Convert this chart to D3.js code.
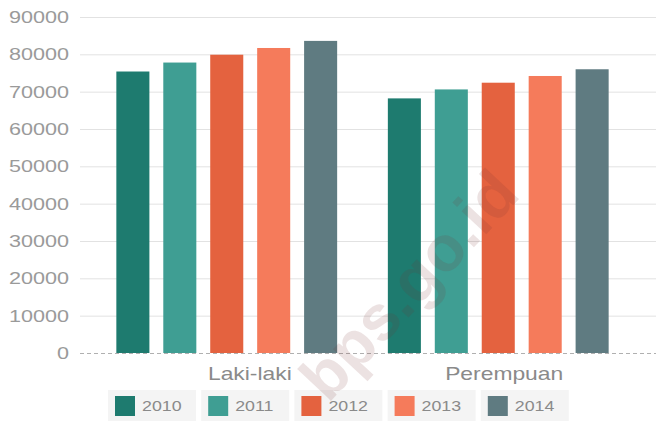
<!DOCTYPE html>
<html>
<head>
<meta charset="utf-8">
<script src="https://cdn.jsdelivr.net/npm/d3@7"></script>
<style>
  html, body { margin: 0; padding: 0; background: #fff; }
  svg { display: block; font-family: "Liberation Sans", Arial, sans-serif; }
</style>
</head>
<body>
<svg id="chart" width="658" height="422"></svg>
<script>
// Population by sex, 2010-2014
const categories = ["Laki-laki", "Perempuan"];
const years = ["2010", "2011", "2012", "2013", "2014"];
const lakiLaki = [75400, 77800, 79900, 81700, 83600];
const perempuan = [68200, 70600, 72400, 74200, 76000];
const yTicks = [0, 10000, 20000, 30000, 40000, 50000, 60000, 70000, 80000, 90000];
const colors = ["#1e7b6f", "#3f9e93", "#e4623f", "#f57b5b", "#5f7b81"];

const seriesByCategory = { "Laki-laki": lakiLaki, "Perempuan": perempuan };

const svg = d3.select("#chart");
const gridLeft = 80, gridRight = 656;
const textStretch = 1.27;

const y = d3.scaleLinear().domain([0, 90000]).range([353, 17]);
const x0 = d3.scaleBand().domain(categories).range([91, 634]);
const x1 = d3.scaleBand().domain(years).range([0, x0.bandwidth()])
  .paddingInner(0.296).paddingOuter(0.54);
const color = d3.scaleOrdinal().domain(years).range(colors);

// horizontal gridlines
svg.append("g").selectAll("line")
  .data(yTicks.filter(d => d > 0))
  .join("line")
  .attr("x1", gridLeft).attr("x2", gridRight)
  .attr("y1", d => y(d) + 0.5).attr("y2", d => y(d) + 0.5)
  .attr("stroke", "#e2e2e2")
  .attr("stroke-width", 1);

// y tick labels
svg.append("g").selectAll("text")
  .data(yTicks)
  .join("text")
  .attr("transform", d => `translate(69,${y(d)}) scale(${textStretch},1)`)
  .attr("text-anchor", "end")
  .attr("dy", "0.36em")
  .attr("font-size", 17)
  .attr("fill", "#9a9a9a")
  .text(d => d);

// bars
const groups = svg.append("g").selectAll("g")
  .data(categories)
  .join("g")
  .attr("transform", d => `translate(${x0(d)},0)`);

groups.selectAll("rect")
  .data(c => years.map((yr, i) => ({ year: yr, value: seriesByCategory[c][i] })))
  .join("rect")
  .attr("x", d => x1(d.year))
  .attr("width", x1.bandwidth())
  .attr("y", d => y(d.value))
  .attr("height", d => y(0) - y(d.value))
  .attr("fill", d => color(d.year));

// baseline
svg.append("line")
  .attr("x1", gridLeft).attr("x2", gridRight)
  .attr("y1", y(0) + 0.5).attr("y2", y(0) + 0.5)
  .attr("stroke", "#b0b0b0")
  .attr("stroke-dasharray", "4,3");

// category labels
svg.append("g").selectAll("text")
  .data(categories)
  .join("text")
  .attr("transform", d => `translate(${x0(d) + x0.bandwidth() / 2 + 65},380) scale(${textStretch},1)`)
  .attr("text-anchor", "end")
  .attr("font-size", 18)
  .attr("fill", "#8a8a8a")
  .text(d => d);

// legend
const legendStep = 93.2;
const legend = svg.append("g").selectAll("g")
  .data(years)
  .join("g")
  .attr("transform", (d, i) => `translate(${108 + i * legendStep},390)`);

legend.append("rect")
  .attr("width", 88).attr("height", 31)
  .attr("fill", "#f4f4f4");

legend.append("rect")
  .attr("x", 7).attr("y", 6)
  .attr("width", 20).attr("height", 20)
  .attr("fill", d => color(d));

legend.append("text")
  .attr("transform", `translate(34,21) scale(${textStretch},1)`)
  .attr("font-size", 14)
  .attr("fill", "#8a8a8a")
  .text(d => d);

// site watermark
svg.append("text")
  .attr("transform", "translate(328,404) rotate(-47)")
  .attr("font-size", 64)
  .attr("font-weight", "bold")
  .attr("fill", "#7a3535")
  .attr("fill-opacity", 0.14)
  .text("bps.go.id");
</script>
</body>
</html>
